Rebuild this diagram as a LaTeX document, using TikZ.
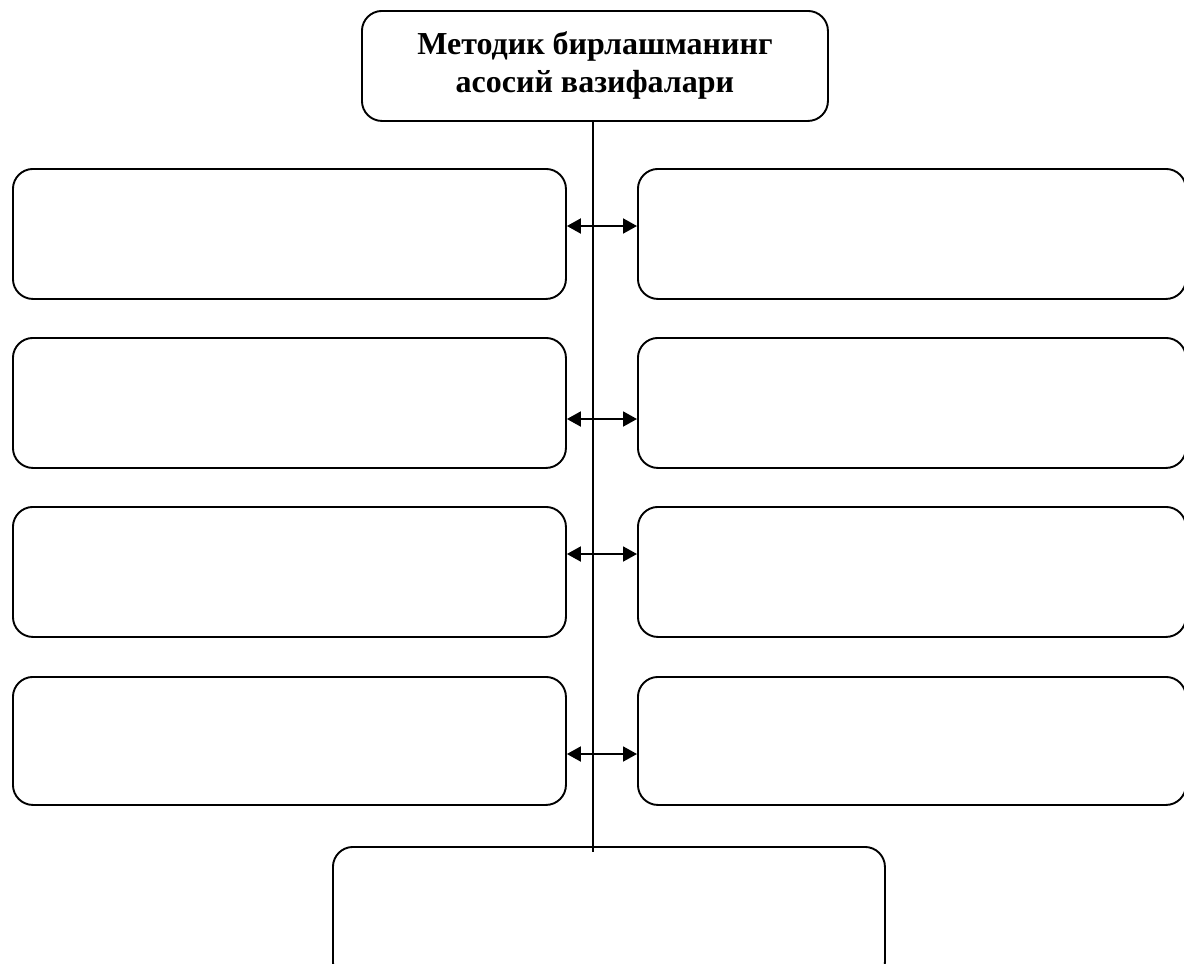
\documentclass[tikz,border=0pt]{standalone}
\usepackage{fontspec}
\setmainfont{Liberation Serif}
\usetikzlibrary{arrows.meta}
\tikzset{
  box/.style={draw, line width=1.9pt, rounded corners=20pt, rectangle, anchor=north west, inner sep=0pt},
  conn/.style={line width=1.9pt},
  arr/.style={line width=1.9pt, {Triangle[length=14pt,width=15pt]}-{Triangle[length=14pt,width=15pt]}}
}
\begin{document}
\begin{tikzpicture}[x=1pt,y=-1pt]
\useasboundingbox (0,0) rectangle (1184,964);
\clip (0,0) rectangle (1184,964);
\fill[white] (0,0) rectangle (1184,964);
% top box
\node[box, minimum width=466pt, minimum height=110pt, align=center,
  font=\fontsize{32}{38}\selectfont\bfseries] (T) at (361,10)
  {Методик бирлашманинг\\асосий вазифалари};
% left boxes
\node[box, minimum width=553pt, minimum height=130pt] (L1) at (12,168) {};
\node[box, minimum width=553pt, minimum height=130pt] (L2) at (12,337) {};
\node[box, minimum width=553pt, minimum height=130pt] (L3) at (12,506) {};
\node[box, minimum width=553pt, minimum height=128pt] (L4) at (12,676) {};
% right boxes
\node[box, minimum width=548pt, minimum height=130pt] (R1) at (637,168) {};
\node[box, minimum width=548pt, minimum height=130pt] (R2) at (637,337) {};
\node[box, minimum width=548pt, minimum height=130pt] (R3) at (637,506) {};
\node[box, minimum width=548pt, minimum height=128pt] (R4) at (637,676) {};
% bottom box
\node[box, minimum width=552pt, minimum height=135pt] (B) at (332,846) {};
% vertical line
\coordinate (E) at (593,852);
\draw[conn] (T.south -| E) -- (E);
% arrows
\coordinate (A1) at (593,226);
\coordinate (A2) at (593,419);
\coordinate (A3) at (593,554);
\coordinate (A4) at (593,754);
\draw[arr] (L1.east |- A1) -- (R1.west |- A1);
\draw[arr] (L2.east |- A2) -- (R2.west |- A2);
\draw[arr] (L3.east |- A3) -- (R3.west |- A3);
\draw[arr] (L4.east |- A4) -- (R4.west |- A4);
\end{tikzpicture}
\end{document}
